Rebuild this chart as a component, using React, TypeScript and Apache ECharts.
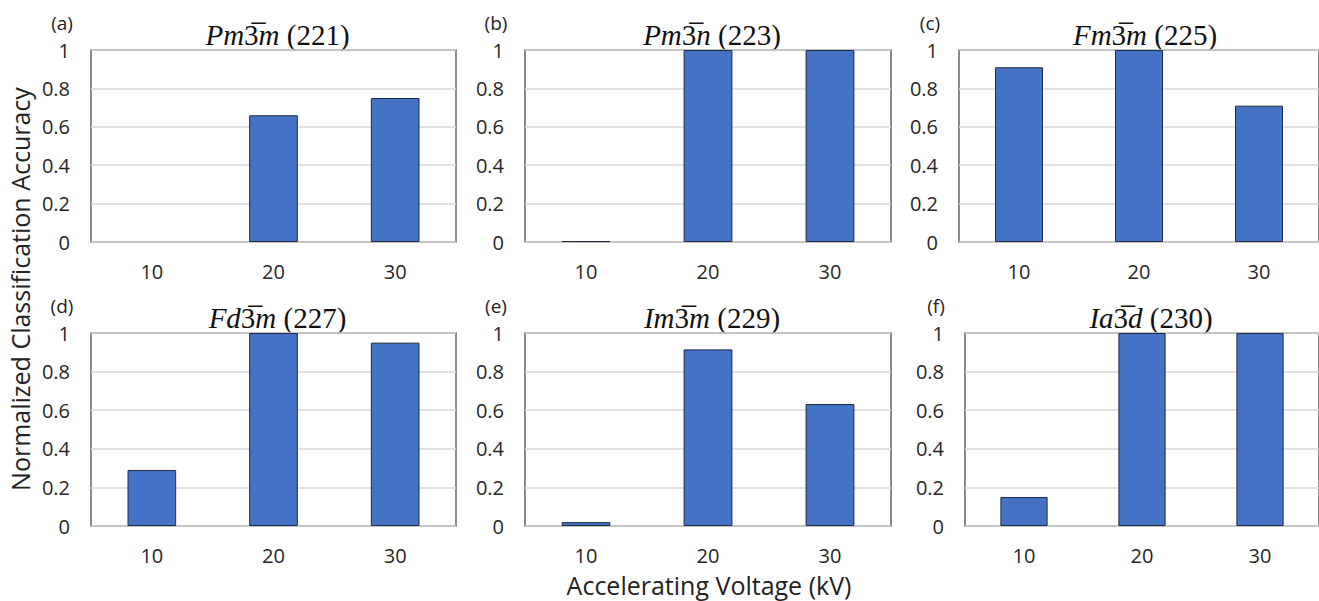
import React, { useEffect, useRef } from 'react';
import * as echarts from 'echarts';

const categories = ['10', '20', '30'];
const panelLabels = ['(a)', '(b)', '(c)', '(d)', '(e)', '(f)'];
// space group symbol parts: [italic prefix, italic suffix], number
const symbolPrefix = ['Pm', 'Pm', 'Fm', 'Fd', 'Im', 'Ia'];
const symbolSuffix = ['m', 'n', 'm', 'm', 'm', 'd'];
const groupNumbers = ['221', '223', '225', '227', '229', '230'];

const accA = [0, 0.66, 0.75];
const accB = [0.005, 1, 1];
const accC = [0.91, 1, 0.71];
const accD = [0.29, 1, 0.95];
const accE = [0.02, 0.915, 0.632];
const accF = [0.15, 1, 1];
const allAcc = [accA, accB, accC, accD, accE, accF];

const xAxisTitle = 'Accelerating Voltage (kV)';
const yAxisTitle = 'Normalized Classification Accuracy';

// layout (pixels)
const panelRects = [
  { left: 91, top: 50, width: 365, height: 192 },
  { left: 525, top: 50, width: 366, height: 192 },
  { left: 959, top: 50, width: 366, height: 192 },
  { left: 91, top: 333, width: 365, height: 193 },
  { left: 525, top: 333, width: 366, height: 193 },
  { left: 965, top: 333, width: 366, height: 193 },
];

const sansFont = '"Open Sans", "Noto Sans", sans-serif';
const serifFont = '"Liberation Serif", "DejaVu Serif", serif';

export default function App() {
  const ref = useRef<HTMLDivElement>(null);
  useEffect(() => {
    if (!ref.current) return;
    const chart = echarts.init(ref.current, null, { renderer: 'svg' });
    const grids: any[] = [];
    const xAxes: any[] = [];
    const yAxes: any[] = [];
    const series: any[] = [];
    const graphics: any[] = [];
    panelRects.forEach((r, i) => {
      grids.push({
        left: r.left,
        top: r.top,
        width: r.width,
        height: r.height,
        show: true,
        borderColor: '#666666',
        borderWidth: 1.5,
        backgroundColor: 'transparent',
        containLabel: false,
      });
      xAxes.push({
        type: 'category',
        gridIndex: i,
        data: categories,
        axisLine: { show: false },
        axisTick: { show: false },
        axisLabel: { color: '#262626', fontSize: 20, fontFamily: sansFont, margin: 19 },
      });
      yAxes.push({
        type: 'value',
        gridIndex: i,
        min: 0,
        max: 1,
        interval: 0.2,
        axisLine: { show: false },
        axisTick: { show: false },
        axisLabel: { color: '#262626', fontSize: 20, fontFamily: sansFont, margin: 21 },
        splitLine: { lineStyle: { color: '#D9D9D9', width: 1.5 } },
      });
      series.push({
        type: 'bar',
        xAxisIndex: i,
        yAxisIndex: i,
        data: allAcc[i].map((v) =>
          v === 0 ? { value: v, itemStyle: { borderWidth: 0, opacity: 0 } } : v
        ),
        barWidth: '40%',
        itemStyle: { color: '#4472C4', borderColor: '#1F2B45', borderWidth: 1 },
        z: 3,
      });
      graphics.push({
        type: 'text',
        x: r.left - 29,
        y: r.top - 27,
        style: {
          text: panelLabels[i],
          font: `19px ${sansFont}`,
          fill: '#222222',
          align: 'center',
          verticalAlign: 'middle',
        },
      });
      const cx = i % 3 === 2 ? r.left + 182 : r.left + r.width / 2;
      graphics.push({
        type: 'text',
        x: cx + 4,
        y: r.top - 15,
        style: {
          text: `{i|${symbolPrefix[i]}}{r|3\u0305}{i|${symbolSuffix[i]}}{r| (${groupNumbers[i]})}`,
          align: 'center',
          verticalAlign: 'middle',
          rich: {
            i: { fontFamily: serifFont, fontStyle: 'italic', fontSize: 29, fill: '#111111', color: '#111111' },
            r: { fontFamily: serifFont, fontSize: 29, fill: '#111111', color: '#111111' },
          },
        },
      });
    });
    graphics.push({
      type: 'text',
      x: 709,
      y: 585,
      style: {
        text: xAxisTitle,
        font: `25px ${sansFont}`,
        fill: '#222222',
        align: 'center',
        verticalAlign: 'middle',
      },
    });
    graphics.push({
      type: 'text',
      x: 20,
      y: 289,
      rotation: Math.PI / 2,
      style: {
        text: yAxisTitle,
        font: `25px ${sansFont}`,
        fill: '#222222',
        align: 'center',
        verticalAlign: 'middle',
      },
    });
    chart.setOption({
      animation: false,
      backgroundColor: '#ffffff',
      grid: grids,
      xAxis: xAxes,
      yAxis: yAxes,
      series,
      graphic: graphics,
    });
    return () => chart.dispose();
  }, []);
  return (
    <div
      ref={ref}
      style={{ position: 'fixed', left: 0, top: 0, width: 1319, height: 601, background: '#fff' }}
    />
  );
}
